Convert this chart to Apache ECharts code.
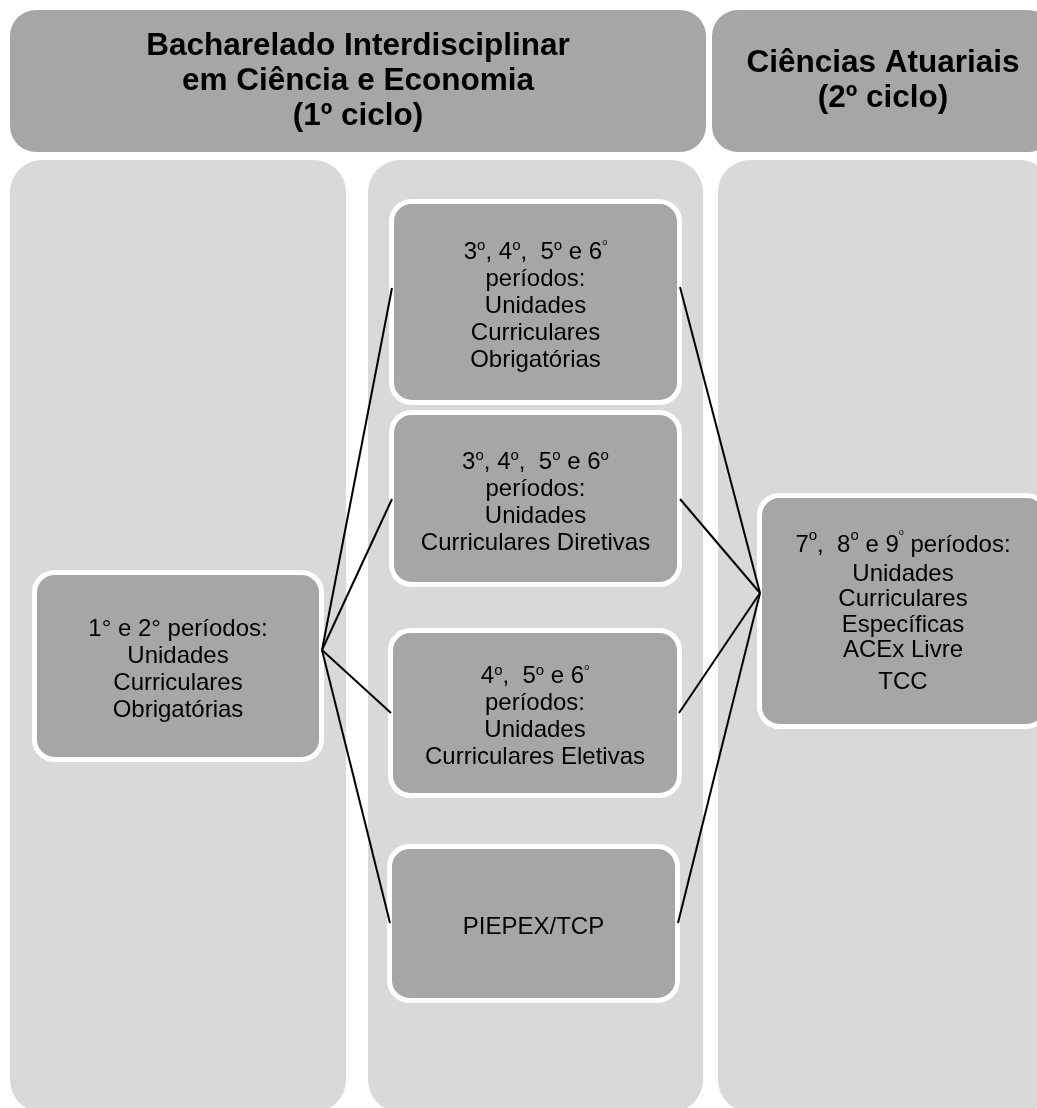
<!DOCTYPE html>
<html><head><meta charset="utf-8">
<script src="https://cdn.jsdelivr.net/npm/echarts@6/dist/echarts.min.js"></script>
<style>html,body{margin:0;padding:0;background:#fff}#c{width:1037px;height:1108px}</style>
</head><body><div id="c"></div>
<script>
// ---- text content ----
const headerLabels = [
  'Bacharelado Interdisciplinar\nem Ciência e Economia\n(1º ciclo)',
  'Ciências Atuariais\n(2º ciclo)'
];
const stageLabels = [
  '1° e 2° períodos:\nUnidades\nCurriculares\nObrigatórias',
  '3{s|o}, 4{s|o},  5{s|o} e 6{t|o}\nperíodos:\nUnidades\nCurriculares\nObrigatórias',
  '3{s|o}, 4{s|o},  5{s|o} e 6{s|o}\nperíodos:\nUnidades\nCurriculares Diretivas',
  '4{s|o},  5{s|o} e 6{t|o}\nperíodos:\nUnidades\nCurriculares Eletivas',
  'PIEPEX/TCP',
  '{f|7}{e|o}{f|,  8}{e|o}{f| e 9}{u|o}{f| períodos:}\nUnidades\nCurriculares\nEspecíficas\nACEx Livre\n{g|TCC}'
];

// ---- layout (diagram units on hidden value axes) ----
const headerRects = [[10, 10, 706, 152], [712, 10, 1054, 152]];
const columnRects = [[10, 160, 346, 1112], [368, 160, 703, 1112], [718, 160, 1052, 1112]];
const stageRects = [
  [34.5, 572.5, 321.5, 759.5],
  [391.5, 201.5, 679.5, 402.5],
  [391.5, 412.5, 679.5, 584.5],
  [390.5, 630.5, 679.5, 795.5],
  [389.5, 846.5, 677.5, 1000.5],
  [759.5, 495.5, 1046.5, 726.5]
];
const connectors = [
  [322, 650, 392, 288],
  [322, 650, 392, 499],
  [322, 650, 391, 713],
  [322, 650, 390, 923],
  [680, 287, 760, 593],
  [680, 499, 760, 593],
  [679, 713, 760, 593],
  [678, 923, 760, 593]
];

const FAMILY = '"Liberation Sans", Arial, sans-serif';
const bodyFont = '24px ' + FAMILY;
const rich = {
  f: { font: bodyFont, lineHeight: 33 },
  s: { font: '15px ' + FAMILY, verticalAlign: 'top', lineHeight: 3 },
  t: { font: '9px ' + FAMILY, verticalAlign: 'top', lineHeight: 1 },
  e: { font: '15px ' + FAMILY, verticalAlign: 'top', lineHeight: 12 },
  u: { font: '9px ' + FAMILY, verticalAlign: 'top', lineHeight: 7 },
  g: { font: bodyFont, lineHeight: 38 }
};
const TEXT_SHIFT = 4;

function corners(api) {
  const p0 = api.coord([api.value(0), api.value(1)]);
  const p1 = api.coord([api.value(2), api.value(3)]);
  return { x: p0[0], y: p0[1], w: p1[0] - p0[0], h: p1[1] - p0[1] };
}

function panelRender(labels, fill, radius, font, lineHeight) {
  return function (params, api) {
    const b = corners(api);
    const children = [{
      type: 'rect',
      shape: { x: b.x, y: b.y, width: b.w, height: b.h, r: radius },
      style: { fill: fill }
    }];
    if (labels) {
      children.push({
        type: 'text',
        x: b.x + b.w / 2, y: b.y + b.h / 2,
        style: { text: labels[params.dataIndex], font: font, fill: '#000',
          align: 'center', verticalAlign: 'middle', lineHeight: lineHeight }
      });
    }
    return { type: 'group', children: children };
  };
}

const chart = echarts.init(document.getElementById('c'), null, { renderer: 'canvas' });
chart.setOption({
  animation: false,
  backgroundColor: '#ffffff',
  grid: { left: 0, right: 0, top: 0, bottom: 0 },
  xAxis: { type: 'value', min: 0, max: 1037, show: false },
  yAxis: { type: 'value', min: 0, max: 1108, inverse: true, show: false },
  series: [
    {
      type: 'custom', clip: false, silent: true,
      data: headerRects,
      encode: { x: [0, 2], y: [1, 3] },
      renderItem: panelRender(headerLabels, '#a6a6a6', 26, 'bold 31.5px ' + FAMILY, 35)
    },
    {
      type: 'custom', clip: false, silent: true,
      data: columnRects,
      encode: { x: [0, 2], y: [1, 3] },
      renderItem: panelRender(null, '#d9d9d9', 32)
    },
    {
      type: 'custom', clip: false, silent: true,
      data: stageRects,
      encode: { x: [0, 2], y: [1, 3] },
      renderItem: function (params, api) {
        const b = corners(api);
        const i = params.dataIndex;
        return {
          type: 'group',
          children: [
            { type: 'rect', shape: { x: b.x, y: b.y, width: b.w, height: b.h, r: 20 },
              style: { fill: '#a6a6a6', stroke: '#ffffff', lineWidth: 5 } },
            { type: 'text', x: b.x + b.w / 2, y: b.y + b.h / 2 + TEXT_SHIFT,
              style: { text: stageLabels[i], font: bodyFont, fill: '#000',
                align: 'center', verticalAlign: 'middle',
                lineHeight: i === 5 ? 25.5 : 27, rich: rich } }
          ]
        };
      }
    },
    {
      type: 'custom', clip: false, silent: true,
      data: connectors,
      encode: { x: [0, 2], y: [1, 3] },
      renderItem: function (params, api) {
        const a = api.coord([api.value(0), api.value(1)]);
        const c = api.coord([api.value(2), api.value(3)]);
        return { type: 'line', shape: { x1: a[0], y1: a[1], x2: c[0], y2: c[1] },
          style: { stroke: '#000', lineWidth: 2 } };
      }
    }
  ]
});
</script>
</body></html>
